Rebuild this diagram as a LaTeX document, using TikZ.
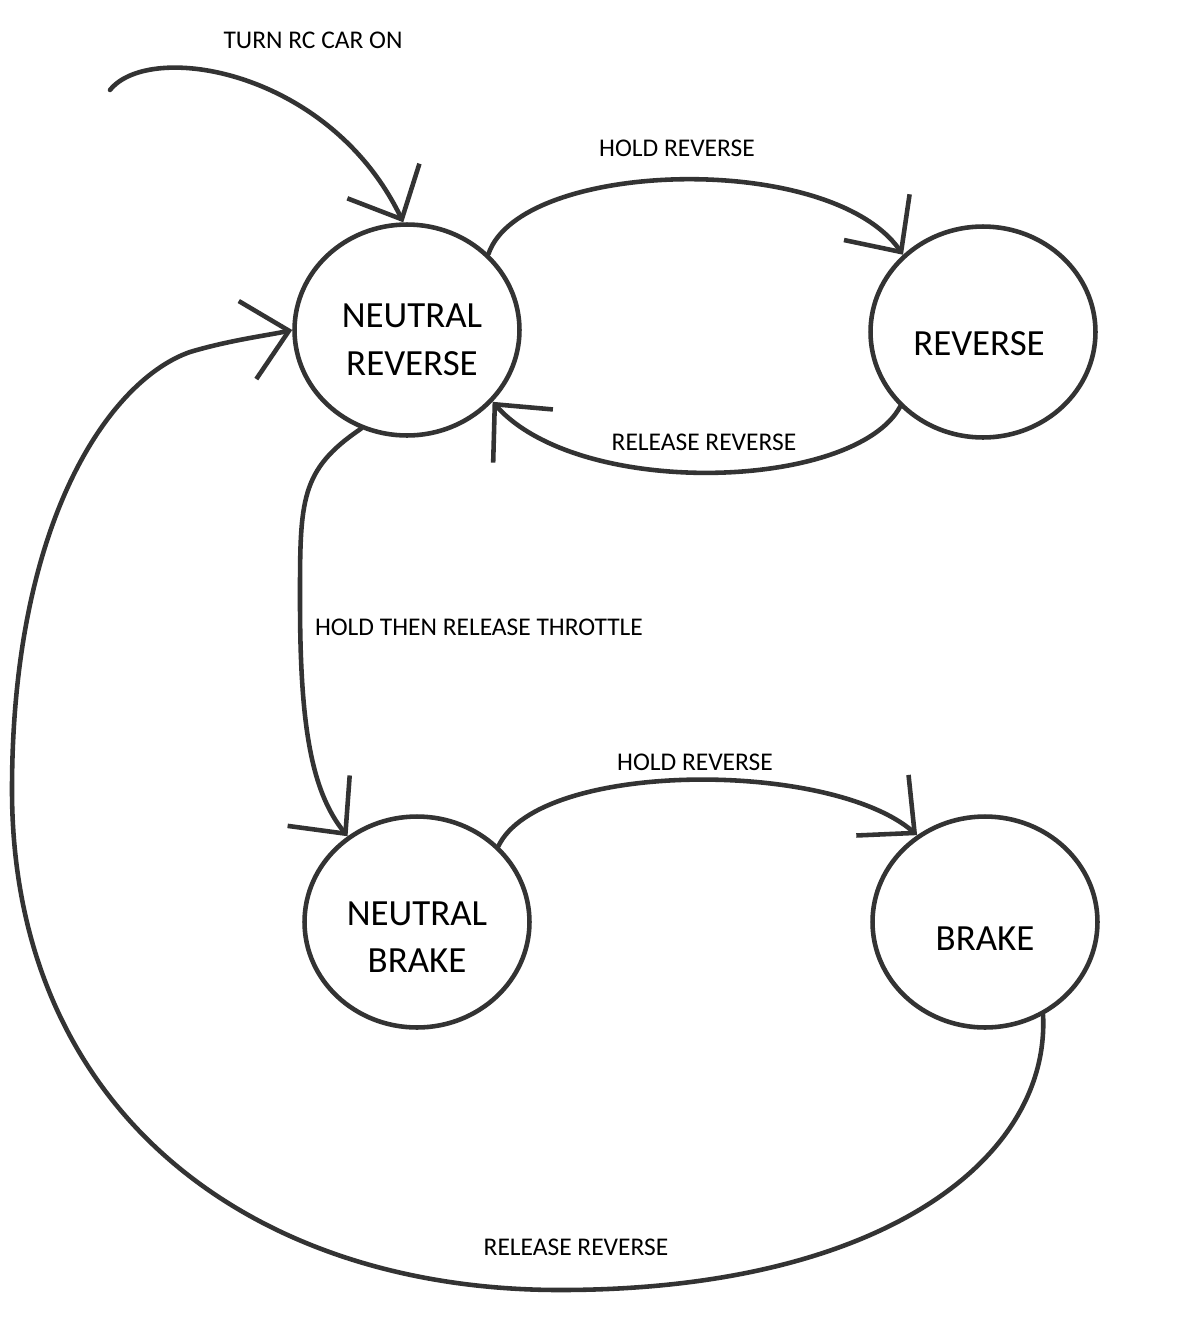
\documentclass[tikz,border=0pt]{standalone}
\usepackage{fontspec}
\setmainfont{Carlito}
\usetikzlibrary{arrows.meta,shapes.geometric}
\definecolor{SketchInk}{HTML}{333333}

\begin{document}
\begin{tikzpicture}[
      x=0.02cm,y=-0.02cm,
      >={Straight Barb[length=8.5mm,width=16mm]},
      mode/.style={ellipse,draw=SketchInk,line width=2.6pt,fill=white,
        minimum width=4.5cm,minimum height=4.22cm},
      modetext/.style={align=center,font=\fontsize{21}{27}\selectfont},
      trans/.style={->,line width=2.6pt,draw=SketchInk,line cap=round,line join=round},
      tlabel/.style={font=\fontsize{14.5}{17}\selectfont,inner sep=1pt}
    ]
    \path[use as bounding box,fill=white] (0,0) rectangle (1190,1329);

    % states
    \node[mode] (nr) at (407,330) {};
    \node[modetext] (nrtxt) at (412,340) {NEUTRAL\\REVERSE};
    \node[mode] (rev) at (983,332) {};
    \node[modetext] (revtxt) at (979,344) {REVERSE};
    \node[mode] (nb) at (417,922) {};
    \node[modetext] (nbtxt) at (417,937) {NEUTRAL\\BRAKE};
    \node[mode] (brk) at (985,922) {};
    \node[modetext] (brktxt) at (985,939) {BRAKE};

    % start
    \coordinate (on) at (110,90);
    \draw[trans] (on) .. controls (150,40) and (330,70) .. (nr.92);
    \node[tlabel] (onlbl) at (313,40) {TURN RC CAR ON};

    % reverse loop
    \draw[trans] (nr.43) .. controls (520,160) and (830,150) .. (rev.136);
    \node[tlabel] (hold1) at (677,148) {HOLD REVERSE};
    \draw[trans] (rev.222) .. controls (855,490) and (580,500) .. (nr.320);
    \node[tlabel] (rel1) at (704,442) {RELEASE REVERSE};

    % down to neutral brake
    \draw[trans] (nr.245) .. controls (300,470) and (300,500) .. (300,600)
      .. controls (300,720) and (310,790) .. (nb.129);
    \node[tlabel] (thr) at (479,627) {HOLD THEN RELEASE THROTTLE};

    % brake
    \draw[trans] (nb.43) .. controls (540,760) and (830,760) .. (brk.128);
    \node[tlabel] (hold2) at (695,762) {HOLD REVERSE};

    % back round to neutral reverse
    \draw[trans] (brk.302) .. controls (1050,1160) and (880,1290) .. (560,1290)
      .. controls (250,1290) and (12,1110) .. (12,790)
      .. controls (12,520) and (110,380) .. (190,352)
      .. controls (230,340) and (270,335) .. (nr.180);
    \node[tlabel] (rel2) at (576,1247) {RELEASE REVERSE};
  \end{tikzpicture}
\end{document}
